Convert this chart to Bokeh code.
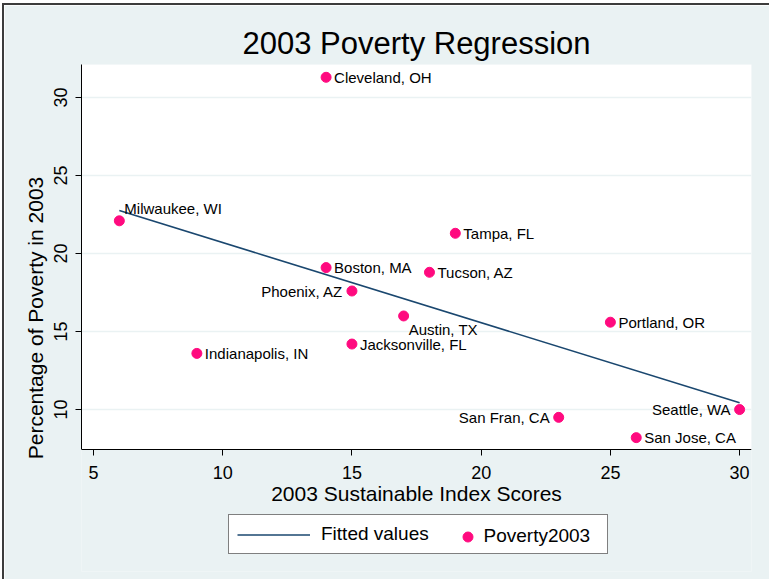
from bokeh.plotting import figure
from bokeh.models import (ColumnDataSource, Range1d, FixedTicker, LabelSet,
                          Legend, LegendItem, BoxAnnotation)
from bokeh.core.properties import value, field
from bokeh.embed import file_html
from bokeh.resources import INLINE

# ---- data ----
cities = ["Cleveland, OH", "Milwaukee, WI", "Boston, MA", "Phoenix, AZ",
          "Tampa, FL", "Tucson, AZ", "Austin, TX", "Jacksonville, FL",
          "Indianapolis, IN", "Portland, OR", "San Fran, CA", "Seattle, WA",
          "San Jose, CA"]
index_scores = [14, 6, 14, 15, 19, 18, 17, 15, 9, 25, 23, 30, 26]
poverty_2003 = [31.3, 22.1, 19.1, 17.6, 21.3, 18.8, 16.0, 14.2, 13.6,
                15.6, 9.5, 10.0, 8.2]
fit_x = [6, 30]
fit_y = [22.76, 10.43]
x_ticks = [5, 10, 15, 20, 25, 30]
y_ticks = [10, 15, 20, 25, 30]

# axis extents of the plot region
X_MIN, X_MAX = 4.536, 30.46
Y_MIN, Y_MAX = 7.44, 32.12

# marker-label clock positions (style)
label_clock = {"Milwaukee, WI": 1, "Phoenix, AZ": 9, "Austin, TX": 5,
               "San Fran, CA": 9, "Seattle, WA": 9}
clock_offsets = {3: (8, 0, "left"), 9: (-9, 0, "right"),
                 1: (5, 12, "left"), 5: (5, -14, "left")}

FONT = "Liberation Sans"
BG = "#EAF2F3"
PINK = "#FF0A7F"
NAVY = "#1A476F"

dx, dy, al = [], [], []
for c in cities:
    ox, oy, a = clock_offsets[label_clock.get(c, 3)]
    dx.append(ox); dy.append(oy); al.append(a)

src = ColumnDataSource(dict(x=index_scores, y=poverty_2003, city=cities,
                            dx=dx, dy=dy, align=al))

# canvas offset caused by the outer border line (page pixels)
OX, OY = 4, 5
W, H = 771 - OX, 581 - OY
TOP, BOT = 64 - OY, 10
plot_px = 449 - 64
px_per_unit = plot_px / (Y_MAX - Y_MIN)
frame_bottom_val = Y_MIN - (581 - BOT - 449) / px_per_unit

p = figure(width=W, height=H, output_backend="svg", toolbar_location=None,
           x_range=Range1d(X_MIN, X_MAX),
           y_range=Range1d(frame_bottom_val, Y_MAX),
           min_border_left=81 - OX, min_border_right=20, min_border_top=TOP,
           min_border_bottom=BOT)
p.background_fill_color = BG
p.border_fill_color = BG
p.outline_line_color = None
p.styles = {"border-left": "2px solid #3c3c3c", "border-top": "2px solid #3c3c3c",
            "margin-left": "2px", "margin-top": "3px"}

p.add_layout(BoxAnnotation(bottom=Y_MIN, fill_color="white", fill_alpha=1,
                           line_color=None, level="image"))

p.title.text = "2003 Poverty Regression"
p.title.align = "center"
p.title.text_font = FONT
p.title.text_font_size = "31px"
p.title.text_font_style = "normal"
p.title.text_color = "black"
p.title.standoff = 7

# grid
p.xgrid.visible = False
p.ygrid.ticker = FixedTicker(ticks=y_ticks)
p.ygrid.grid_line_color = BG
p.ygrid.grid_line_width = 1.5

# axes
for ax in (p.xaxis[0], p.yaxis[0]):
    ax.axis_line_color = "black"
    ax.major_tick_line_color = "black"
    ax.major_tick_out = 6
    ax.major_tick_in = 0
    ax.minor_tick_line_color = None
    ax.major_label_text_font = FONT
    ax.major_label_text_font_size = "18px"
    ax.major_label_text_color = "black"
    ax.axis_label_text_font = FONT
    ax.axis_label_text_font_size = "21px"
    ax.axis_label_text_font_style = "normal"
    ax.axis_label_text_color = "black"

p.xaxis.ticker = FixedTicker(ticks=x_ticks)
p.yaxis.ticker = FixedTicker(ticks=y_ticks)
p.xaxis.fixed_location = Y_MIN
p.yaxis.bounds = (Y_MIN, Y_MAX)
p.xaxis.axis_label = "2003 Sustainable Index Scores"
p.yaxis.axis_label = "Percentage of Poverty in 2003"
p.yaxis.major_label_orientation = "vertical"
p.xaxis.major_label_standoff = 10
p.xaxis.axis_label_standoff = 0
p.yaxis.major_label_standoff = 8
p.yaxis.axis_label_standoff = 5

fit = p.line(fit_x, fit_y, line_color=NAVY, line_width=1.6)
pts = p.scatter("x", "y", source=src, size=10, fill_color=PINK,
                line_color=PINK)

labels = LabelSet(x="x", y="y", text="city", source=src,
                  x_offset="dx", y_offset="dy", text_align=field("align"),
                  text_baseline="middle", text_font=value(FONT),
                  text_font_size="15px", text_color="black")
p.add_layout(labels)

frame_bottom_px = 581 - BOT
leg_a = Legend(items=[LegendItem(label="Fitted values", renderers=[fit])],
               location=(147, frame_bottom_px - 554), orientation="horizontal",
               padding=8, spacing=0, margin=0,
               glyph_width=73, glyph_height=21, label_height=21,
               label_width=278, label_standoff=11,
               label_text_font=FONT, label_text_font_size="19px",
               label_text_color="black",
               border_line_color="black", border_line_width=1,
               background_fill_color="white", background_fill_alpha=1)
leg_b = Legend(items=[LegendItem(label="Poverty2003", renderers=[pts])],
               location=(373.5, frame_bottom_px - 548.5),
               orientation="horizontal",
               padding=0, spacing=0, margin=0,
               glyph_width=25, glyph_height=25, label_height=21,
               label_standoff=4,
               label_text_font=FONT, label_text_font_size="19px",
               label_text_color="black",
               border_line_color=None, background_fill_alpha=0)
p.add_layout(leg_a, "center")
p.add_layout(leg_b, "center")

open("out.html", "w").write(file_html(p, INLINE))
